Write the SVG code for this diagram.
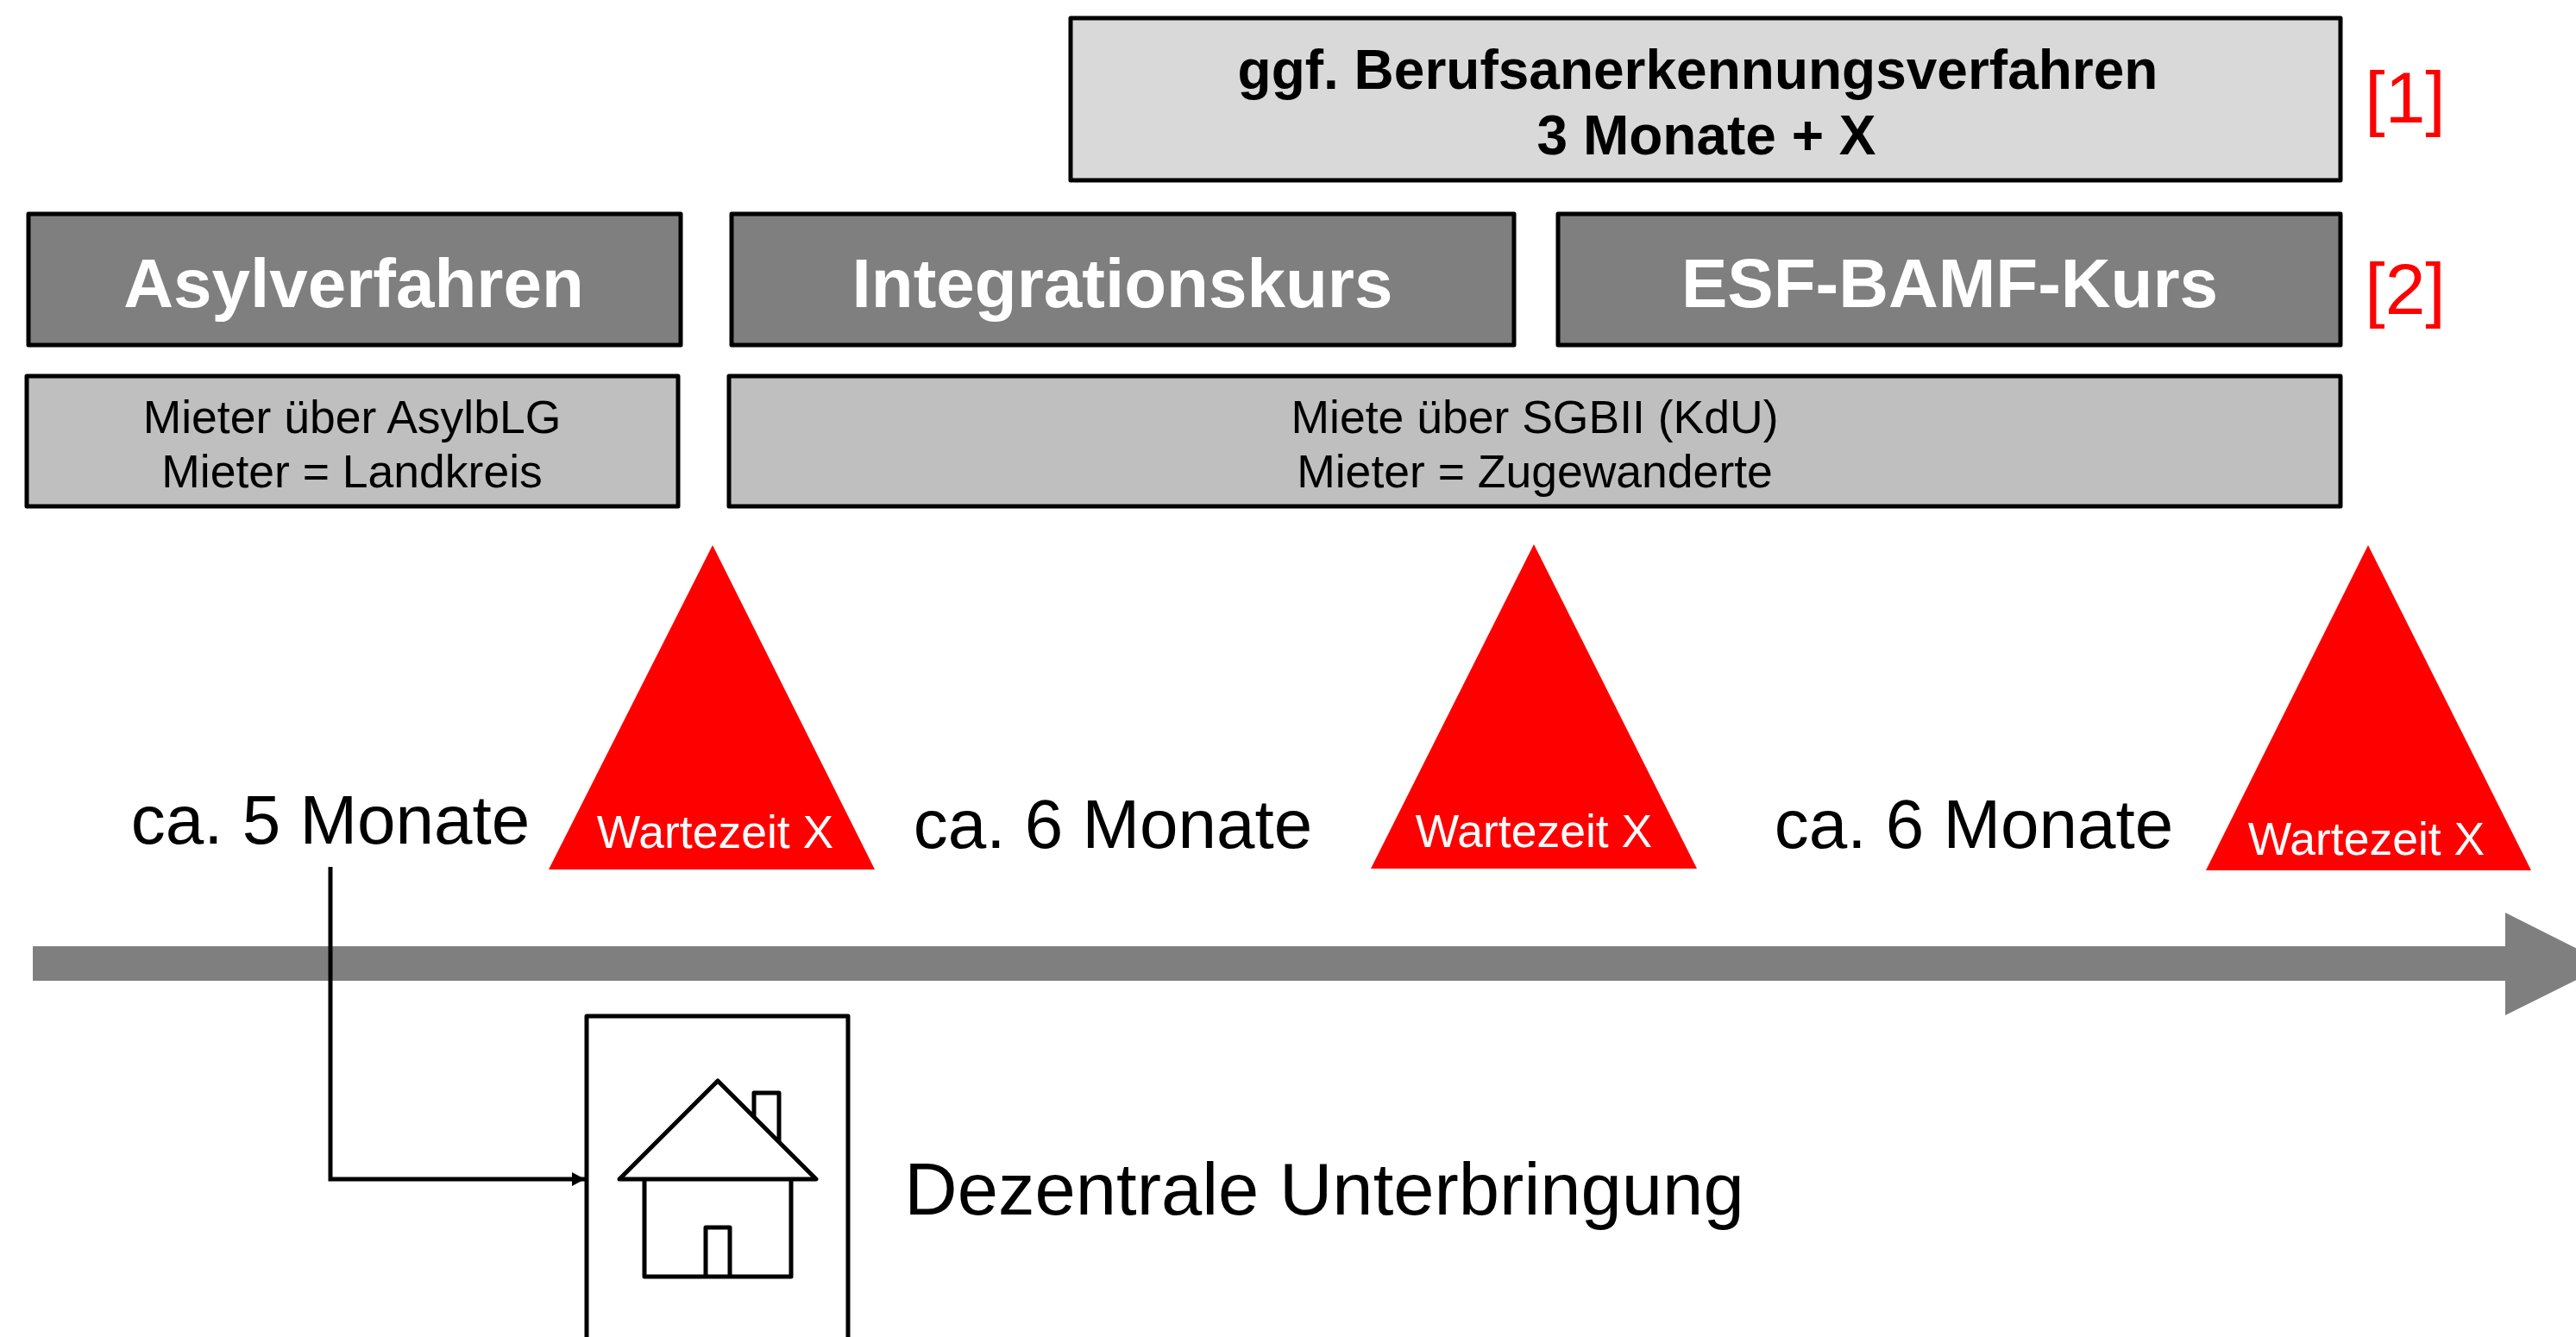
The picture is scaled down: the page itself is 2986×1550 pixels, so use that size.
<svg xmlns="http://www.w3.org/2000/svg" width="2986" height="1550" viewBox="0 0 2986 1550">
<style>
text{font-family:"Liberation Sans",Arial,sans-serif;text-anchor:middle}
.b{stroke:#000;stroke-width:5;stroke-linejoin:round}
.h{font-weight:700;font-size:80px;fill:#fff}
.s{font-size:53.5px;fill:#000}
.w{font-size:53.5px;fill:#fff}
.t{font-size:80px;fill:#000}
.r{font-size:84px;fill:#f00}
.l{fill:none;stroke:#000;stroke-width:5;stroke-linejoin:round}
</style>
<defs><marker id="a" markerUnits="userSpaceOnUse" markerWidth="16" markerHeight="18" refX="15" refY="9" orient="auto"><path d="M0 1L15 9L0 17Z" fill="#000"/></marker></defs>
<rect width="2986" height="1550" fill="#fff"/>
<g id="n-beruf"><rect class="b" x="1241" y="21" width="1472" height="188" fill="#d9d9d9"/><text x="1968" y="103" font-size="64" font-weight="700">ggf. Berufsanerkennungsverfahren</text><text x="1978" y="179" font-size="64" font-weight="700">3 Monate + X</text></g>
<text class="r" x="2788" y="142">[1]</text>
<g id="n-asyl"><rect class="b" x="33" y="248" width="756" height="152" fill="#7f7f7f"/><text class="h" x="410" y="356">Asylverfahren</text></g>
<g id="n-int"><rect class="b" x="848" y="248" width="907" height="152" fill="#7f7f7f"/><text class="h" x="1301" y="356">Integrationskurs</text></g>
<g id="n-esf"><rect class="b" x="1806" y="248" width="907" height="152" fill="#7f7f7f"/><text class="h" x="2260" y="356">ESF-BAMF-Kurs</text></g>
<text class="r" x="2788" y="364">[2]</text>
<g id="n-m1"><rect class="b" x="31" y="436" width="755" height="151" fill="#bfbfbf"/><text class="s" x="408" y="502">Mieter über AsylbLG</text><text class="s" x="408" y="565">Mieter = Landkreis</text></g>
<g id="n-m2"><rect class="b" x="845" y="436" width="1868" height="151" fill="#bfbfbf"/><text class="s" x="1779" y="502">Miete über SGBII (KdU)</text><text class="s" x="1779" y="565">Mieter = Zugewanderte</text></g>
<g id="n-t1"><polygon points="826,632 1014,1008 636,1008" fill="#f00"/><text class="w" x="829" y="983">Wartezeit X</text></g>
<g id="n-t2"><polygon points="1778,631 1967,1007 1589,1007" fill="#f00"/><text class="w" x="1778" y="982">Wartezeit X</text></g>
<g id="n-t3"><polygon points="2745,632 2934,1009 2557,1009" fill="#f00"/><text class="w" x="2743" y="991">Wartezeit X</text></g>
<text class="t" x="383" y="978">ca. 5 Monate</text>
<text class="t" x="1290" y="983">ca. 6 Monate</text>
<text class="t" x="2288" y="983">ca. 6 Monate</text>
<g id="n-timeline"><polygon points="38,1097 2904,1097 2904,1058 3023,1118 2904,1177 2904,1137 38,1137" fill="#7f7f7f"/></g>
<g id="n-house"><path class="l" d="M680 1550V1178H983V1550"/><path class="l" d="M747 1367V1480H917V1367M818 1480V1423H846V1480M874 1296V1267H903V1325M718 1367L832 1253L946 1367Z"/></g>
<text x="1535" y="1408" font-size="85">Dezentrale Unterbringung</text>
<g id="connectors"><path d="M383 1005V1367H678" fill="none" stroke="#000" stroke-width="5" marker-end="url(#a)"/></g>
</svg>
